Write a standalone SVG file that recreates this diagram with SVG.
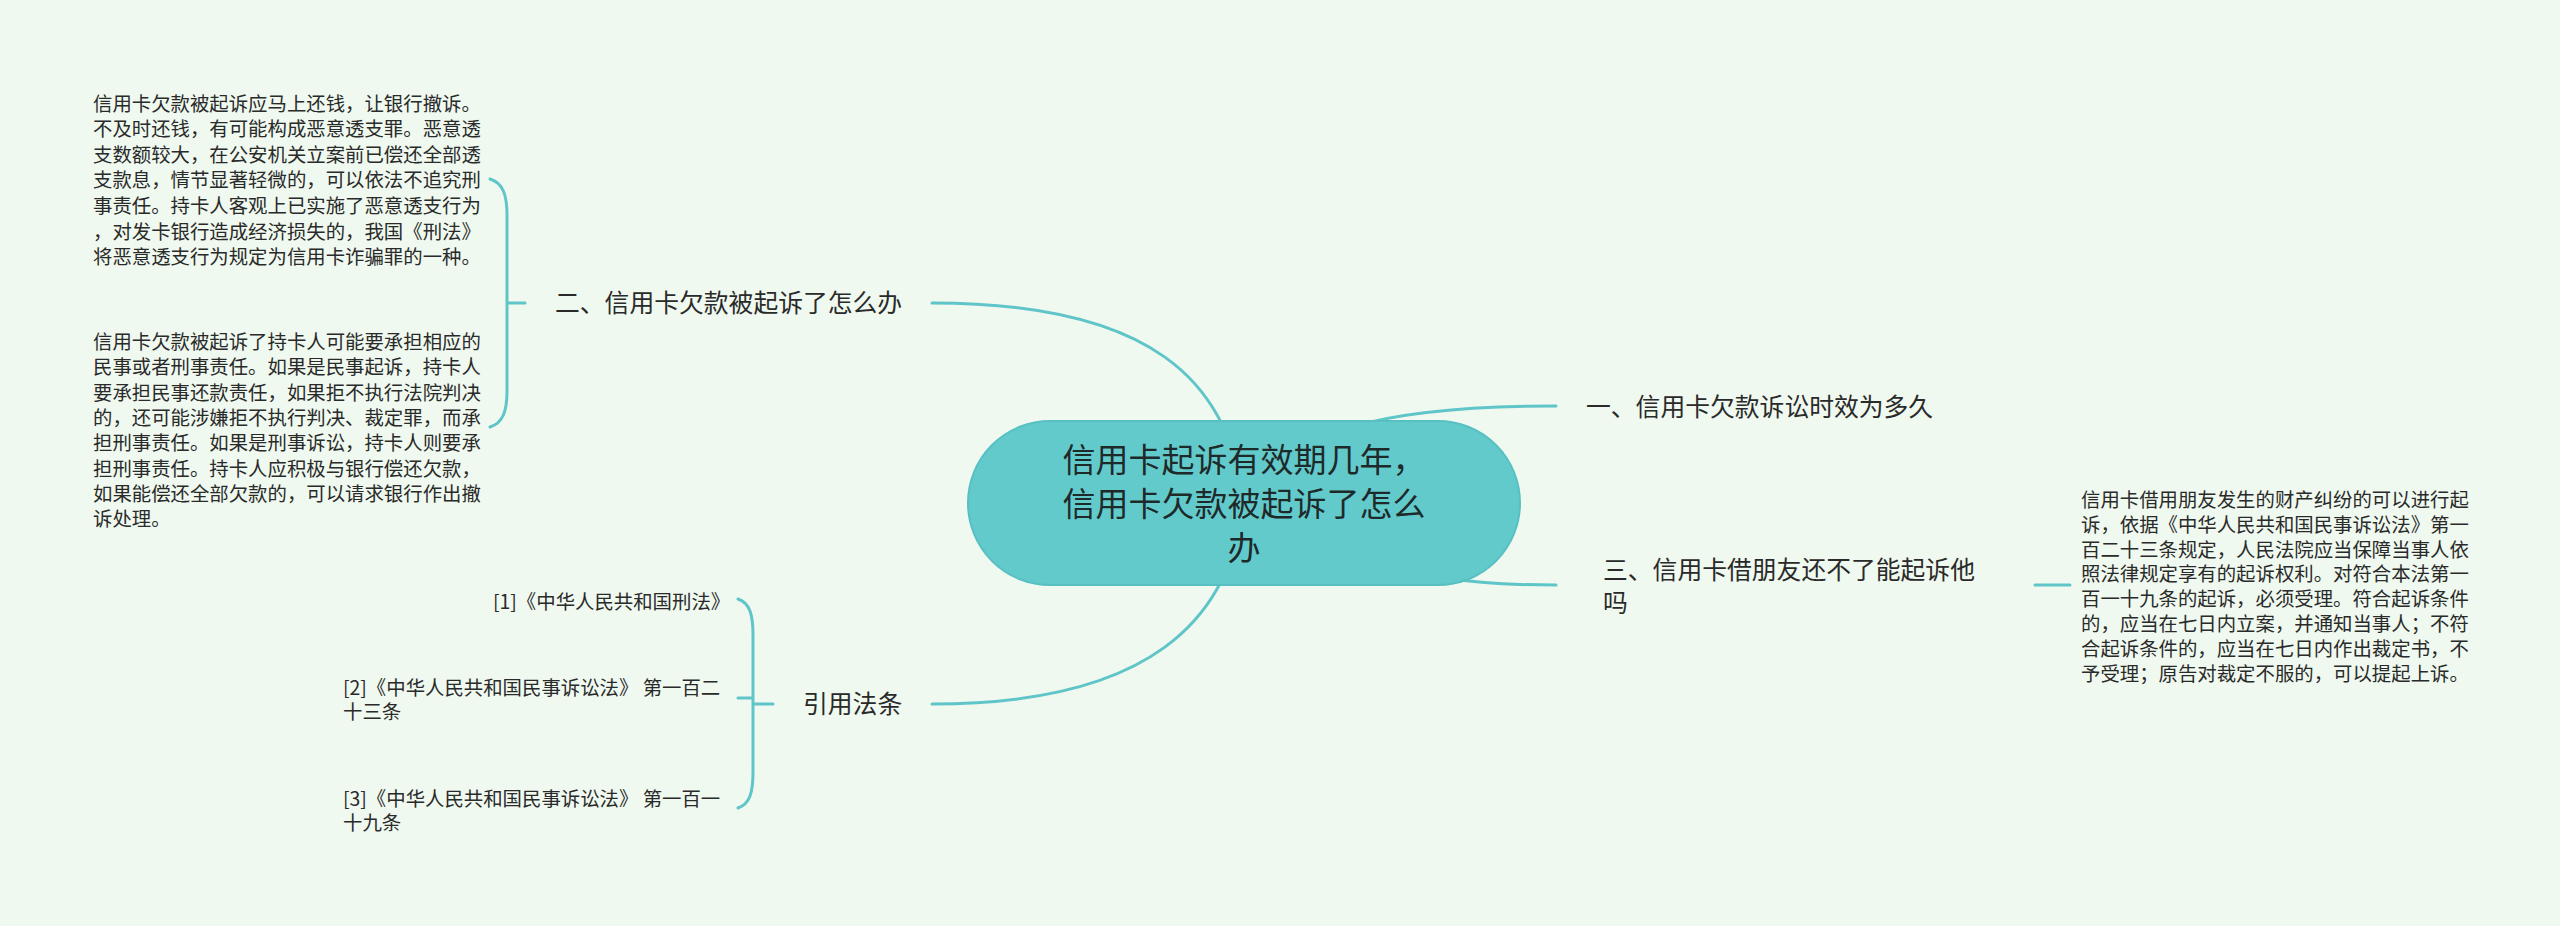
<svg xmlns="http://www.w3.org/2000/svg" width="2560" height="926" viewBox="0 0 2560 926">
<style>
.bg{fill:#eff9ef}
.ln{fill:none;stroke:#5fc5c8;stroke-width:3;stroke-linecap:round}
.t{font-family:"Noto Sans CJK SC","Noto Sans",sans-serif;fill:#2a2a2a}
.main{font-size:33px;fill:#1e2a2a}
.br{font-size:24.8px}
.p{font-size:19.4px}
</style>
<rect class="bg" x="0" y="0" width="2560" height="926"/>
<g id="connectors">
<path class="ln" d="M1244 503 C1290 430,1380 406,1556 406"/>
<path class="ln" d="M1244 503 C1380 575,1450 585,1556 585"/>
<path class="ln" d="M1244 503 C1230 380,1150 303,932 303"/>
<path class="ln" d="M1244 503 C1230 620,1150 704,932 704"/>
<path class="ln" d="M2035 585 H2070"/>
<path class="ln" d="M490 179 C503 183,507 195,507 215 L507 391 C507 411,503 423,490 427 M507 303 H525"/>
<path class="ln" d="M738 599 C750 603,753 615,753 635 L753 772 C753 792,750 804,738 808 M738 698 H753 M753 704 H773"/>
</g>
<g id="center">
<rect x="968" y="421" width="552" height="164" rx="82" ry="82" fill="#63cacc" stroke="#58c0c3" stroke-width="2"/>
<text class="t main" text-anchor="middle"><tspan x="1244" y="471.5">信用卡起诉有效期几年，</tspan><tspan x="1244" y="515.5">信用卡欠款被起诉了怎么</tspan><tspan x="1244" y="559.5">办</tspan></text>
</g>
<g id="b1">
<text class="t br" x="1586" y="416">一、信用卡欠款诉讼时效为多久</text>
</g>
<g id="b2">
<text class="t br" x="555" y="312">二、信用卡欠款被起诉了怎么办</text>
</g>
<g id="b3">
<text class="t br"><tspan x="1603" y="579">三、信用卡借朋友还不了能起诉他</tspan><tspan x="1603" y="612">吗</tspan></text>
</g>
<g id="b4">
<text class="t br" x="803" y="713">引用法条</text>
</g>
<g id="b2-leaf1">
<text class="t p"><tspan x="93" y="110.5">信用卡欠款被起诉应马上还钱，让银行撤诉。</tspan><tspan x="93" y="136.1">不及时还钱，有可能构成恶意透支罪。恶意透</tspan><tspan x="93" y="161.7">支数额较大，在公安机关立案前已偿还全部透</tspan><tspan x="93" y="187.3">支款息，情节显著轻微的，可以依法不追究刑</tspan><tspan x="93" y="212.9">事责任。持卡人客观上已实施了恶意透支行为</tspan><tspan x="93" y="238.5">，对发卡银行造成经济损失的，我国《刑法》</tspan><tspan x="93" y="264.1">将恶意透支行为规定为信用卡诈骗罪的一种。</tspan></text>
</g>
<g id="b2-leaf2">
<text class="t p"><tspan x="93" y="349">信用卡欠款被起诉了持卡人可能要承担相应的</tspan><tspan x="93" y="374.3">民事或者刑事责任。如果是民事起诉，持卡人</tspan><tspan x="93" y="399.6">要承担民事还款责任，如果拒不执行法院判决</tspan><tspan x="93" y="424.9">的，还可能涉嫌拒不执行判决、裁定罪，而承</tspan><tspan x="93" y="450.2">担刑事责任。如果是刑事诉讼，持卡人则要承</tspan><tspan x="93" y="475.5">担刑事责任。持卡人应积极与银行偿还欠款，</tspan><tspan x="93" y="500.8">如果能偿还全部欠款的，可以请求银行作出撤</tspan><tspan x="93" y="526.1">诉处理。</tspan></text>
</g>
<g id="b3-leaf1">
<text class="t p"><tspan x="2081" y="507">信用卡借用朋友发生的财产纠纷的可以进行起</tspan><tspan x="2081" y="531.8">诉，依据《中华人民共和国民事诉讼法》第一</tspan><tspan x="2081" y="556.6">百二十三条规定，人民法院应当保障当事人依</tspan><tspan x="2081" y="581.4">照法律规定享有的起诉权利。对符合本法第一</tspan><tspan x="2081" y="606.2">百一十九条的起诉，必须受理。符合起诉条件</tspan><tspan x="2081" y="631">的，应当在七日内立案，并通知当事人；不符</tspan><tspan x="2081" y="655.8">合起诉条件的，应当在七日内作出裁定书，不</tspan><tspan x="2081" y="680.6">予受理；原告对裁定不服的，可以提起上诉。</tspan></text>
</g>
<g id="b4-leaf1">
<text class="t p" x="493" y="609">[1]《中华人民共和国刑法》</text>
</g>
<g id="b4-leaf2">
<text class="t p"><tspan x="343" y="695">[2]《中华人民共和国民事诉讼法》 第一百二</tspan><tspan x="343" y="719">十三条</tspan></text>
</g>
<g id="b4-leaf3">
<text class="t p"><tspan x="343" y="806">[3]《中华人民共和国民事诉讼法》 第一百一</tspan><tspan x="343" y="830">十九条</tspan></text>
</g>
</svg>
